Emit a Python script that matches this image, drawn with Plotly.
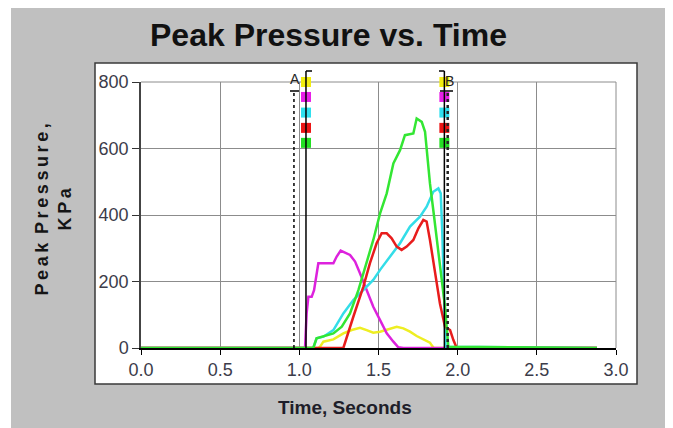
import plotly.graph_objects as go

# ---------------- data ----------------
yellow_t = [0.0, 1.12, 1.131, 1.152, 1.215, 1.278, 1.331, 1.383, 1.425, 1.467, 1.510, 1.562, 1.615, 1.657, 1.699, 1.741, 1.783, 1.825, 1.836, 1.85, 2.88]
yellow_v = [0, 0, 4, 19, 26, 44, 54, 61, 54, 46, 49, 56, 64, 59, 49, 36, 26, 16, 8, 0, 0]

magenta_t = [0.0, 1.036, 1.046, 1.057, 1.078, 1.093, 1.120, 1.215, 1.236, 1.261, 1.320, 1.352, 1.383, 1.425, 1.467, 1.510, 1.552, 1.594, 1.625, 1.657, 2.88]
magenta_v = [0, 0, 104, 154, 154, 174, 255, 255, 275, 293, 280, 260, 225, 174, 124, 84, 44, 19, 2, 0, 0]

cyan_t = [0.0, 1.088, 1.109, 1.152, 1.215, 1.278, 1.341, 1.404, 1.467, 1.510, 1.573, 1.636, 1.699, 1.762, 1.804, 1.846, 1.878, 1.893, 1.903, 1.914, 1.924, 2.88]
cyan_v = [0, 0, 29, 34, 54, 104, 144, 174, 205, 235, 275, 315, 365, 395, 425, 470, 480, 465, 345, 144, 4, 0]

red_t = [0.0, 1.278, 1.341, 1.404, 1.446, 1.488, 1.520, 1.552, 1.583, 1.615, 1.646, 1.678, 1.720, 1.752, 1.783, 1.804, 1.825, 1.857, 1.888, 1.920, 1.952, 1.973, 1.994, 2.88]
red_v = [0, 0, 94, 184, 255, 315, 345, 345, 330, 305, 295, 305, 325, 360, 385, 380, 325, 225, 134, 64, 54, 24, 0, 0]

green_t = [0.0, 1.088, 1.109, 1.215, 1.268, 1.320, 1.373, 1.425, 1.467, 1.510, 1.552, 1.594, 1.636, 1.667, 1.720, 1.741, 1.773, 1.794, 1.804, 1.825, 1.846, 1.868, 1.899, 1.920, 1.941, 2.88]
green_v = [0, 0, 29, 44, 64, 104, 174, 255, 325, 405, 465, 555, 595, 640, 645, 690, 680, 650, 595, 495, 415, 325, 215, 124, 4, 0]

x_ticks = [0.0, 0.5, 1.0, 1.5, 2.0, 2.5, 3.0]
y_ticks = [0, 200, 400, 600, 800]

cursor_a_dashed = 0.966
cursor_a_solid = 1.042
cursor_b_solid = 1.916
cursor_b_dashed = 1.937
channel_marker_y = [800, 755, 708, 662, 617]
channel_colors = ["#f2ee10", "#e81ee8", "#2fe0ee", "#ec1414", "#22e022"]

# ---------------- layout constants ----------------
# page body has an 8px margin; the figure is sized so it fits the 673x428 window
BODY = 8
SCREEN_W, SCREEN_H = 673, 428
W, H = SCREEN_W - BODY, SCREEN_H - BODY
# plot area in screen pixels
L_S, R_S, T_S, B_S = 141, 616, 82, 348
PW, PH = R_S - L_S, B_S - T_S
X_MAX, Y_MAX = 3.0, 800.0
margin_l = L_S - BODY
margin_t = T_S - BODY
margin_r = W - margin_l - PW
margin_b = H - margin_t - PH


def px(xpix):
    return (xpix - L_S) / PW


def py(ypix):
    return (B_S - ypix) / PH


def tx(t):
    return t / X_MAX


fig = go.Figure()

series = [
    (yellow_t, yellow_v, "#eeee22"),
    (magenta_t, magenta_v, "#dd22dd"),
    (cyan_t, cyan_v, "#33dde8"),
    (red_t, red_v, "#e81c1c"),
    (green_t, green_v, "#33e633"),
]
for t, v, c in series:
    fig.add_trace(go.Scatter(x=t, y=v, mode="lines", line=dict(color=c, width=2.5),
                             showlegend=False, hoverinfo="skip"))

for xc in (cursor_a_solid, cursor_b_solid):
    fig.add_trace(go.Scatter(x=[xc] * len(channel_marker_y), y=channel_marker_y, mode="markers",
                             marker=dict(symbol="square", size=10, color=channel_colors),
                             cliponaxis=False, showlegend=False, hoverinfo="skip"))

GRID = "#8c8c8c"
shapes = []
# grey frame background
shapes.append(dict(type="rect", xref="paper", yref="paper", x0=px(11), x1=px(SCREEN_W + 20), y0=py(SCREEN_H + 20), y1=py(6),
                   fillcolor="#c0c0c0", line=dict(width=0), layer="below"))
# white chart box
shapes.append(dict(type="rect", xref="paper", yref="paper", x0=px(95), x1=px(637), y0=py(384), y1=py(63),
                   fillcolor="white", line=dict(color="#3a3a3a", width=1.5), layer="below"))
# grid lines at the far ends of the axes
shapes.append(dict(type="line", xref="paper", yref="paper", x0=1, x1=1, y0=0, y1=1,
                   line=dict(color=GRID, width=1), layer="below"))
shapes.append(dict(type="line", xref="paper", yref="paper", x0=0, x1=1, y0=1, y1=1,
                   line=dict(color=GRID, width=1), layer="below"))
# cursors
shapes.append(dict(type="line", xref="paper", yref="paper", x0=tx(cursor_a_dashed), x1=tx(cursor_a_dashed),
                   y0=0, y1=py(91), line=dict(color="black", width=1.5, dash="dot"), layer="above"))
shapes.append(dict(type="line", xref="paper", yref="paper", x0=px(290), x1=px(299), y0=py(91), y1=py(91),
                   line=dict(color="black", width=1.5), layer="above"))
shapes.append(dict(type="line", xref="paper", yref="paper", x0=tx(cursor_a_solid), x1=tx(cursor_a_solid),
                   y0=0, y1=py(71), line=dict(color="black", width=1.5), layer="above"))
shapes.append(dict(type="line", xref="paper", yref="paper", x0=tx(cursor_a_solid), x1=px(312), y0=py(71), y1=py(71),
                   line=dict(color="black", width=1.5), layer="above"))
shapes.append(dict(type="line", xref="paper", yref="paper", x0=tx(cursor_b_solid), x1=tx(cursor_b_solid),
                   y0=0, y1=py(71), line=dict(color="black", width=1.5), layer="above"))
shapes.append(dict(type="line", xref="paper", yref="paper", x0=px(439), x1=tx(cursor_b_solid), y0=py(71), y1=py(71),
                   line=dict(color="black", width=1.5), layer="above"))
shapes.append(dict(type="line", xref="paper", yref="paper", x0=tx(cursor_b_dashed), x1=tx(cursor_b_dashed),
                   y0=0, y1=py(91), line=dict(color="#222", width=2.5, dash="dot"), layer="above"))
shapes.append(dict(type="line", xref="paper", yref="paper", x0=px(440), x1=px(453), y0=py(91), y1=py(91),
                   line=dict(color="black", width=1.5), layer="above"))

annotations = [
    dict(text="<b>Peak Pressure vs. Time</b>", xref="paper", yref="paper", x=px(328.5), y=py(35),
         xanchor="center", yanchor="middle", showarrow=False,
         font=dict(family="Liberation Sans, Arial", size=32, color="#111111")),
    dict(text="<b>Time, Seconds</b>", xref="paper", yref="paper", x=px(345), y=py(408),
         xanchor="center", yanchor="middle", showarrow=False,
         font=dict(family="Liberation Sans, Arial", size=19, color="#1e1e2a")),
    dict(text="<b>P\u2009e\u2009a\u2009k\u2009 P\u2009r\u2009e\u2009s\u2009s\u2009u\u2009r\u2009e\u2009,</b><br><b>K\u2009P\u2009a</b>",
         xref="paper", yref="paper", x=px(52.5), y=py(210), textangle=-90,
         xanchor="center", yanchor="middle", showarrow=False,
         font=dict(family="Liberation Sans, Arial", size=18, color="#151515")),
    dict(text="A", xref="paper", yref="paper", x=px(294.5), y=py(79), xanchor="center", yanchor="middle",
         showarrow=False, font=dict(family="Liberation Sans, Arial", size=14, color="#222")),
    dict(text="B", xref="paper", yref="paper", x=px(449), y=py(81), xanchor="center", yanchor="middle",
         showarrow=False, font=dict(family="Liberation Sans, Arial", size=14, color="#222")),
]

fig.update_layout(
    width=W, height=H,
    autosize=False,
    margin=dict(l=margin_l, r=margin_r, t=margin_t, b=margin_b, pad=0, autoexpand=False),
    paper_bgcolor="white",
    plot_bgcolor="rgba(0,0,0,0)",
    shapes=shapes,
    annotations=annotations,
    showlegend=False,
    xaxis=dict(range=[0, X_MAX], tickvals=x_ticks, ticktext=[f"{v:.1f}" for v in x_ticks],
               showgrid=True, gridcolor=GRID, gridwidth=1, zeroline=False,
               showline=True, linecolor="black", linewidth=1.5,
               ticks="outside", ticklen=5, tickcolor="black", tickwidth=1,
               tickfont=dict(family="Liberation Sans, Arial", size=18, color="#3c3c4a")),
    yaxis=dict(range=[0, Y_MAX], tickvals=y_ticks, ticktext=[str(v) for v in y_ticks],
               showgrid=True, gridcolor=GRID, gridwidth=1, zeroline=False,
               showline=True, linecolor="#444", linewidth=1.5,
               ticks="outside", ticklen=7, tickcolor="#333", tickwidth=1,
               tickfont=dict(family="Liberation Sans, Arial", size=18, color="#3c3c4a")),
)

fig.write_html("out.html")
